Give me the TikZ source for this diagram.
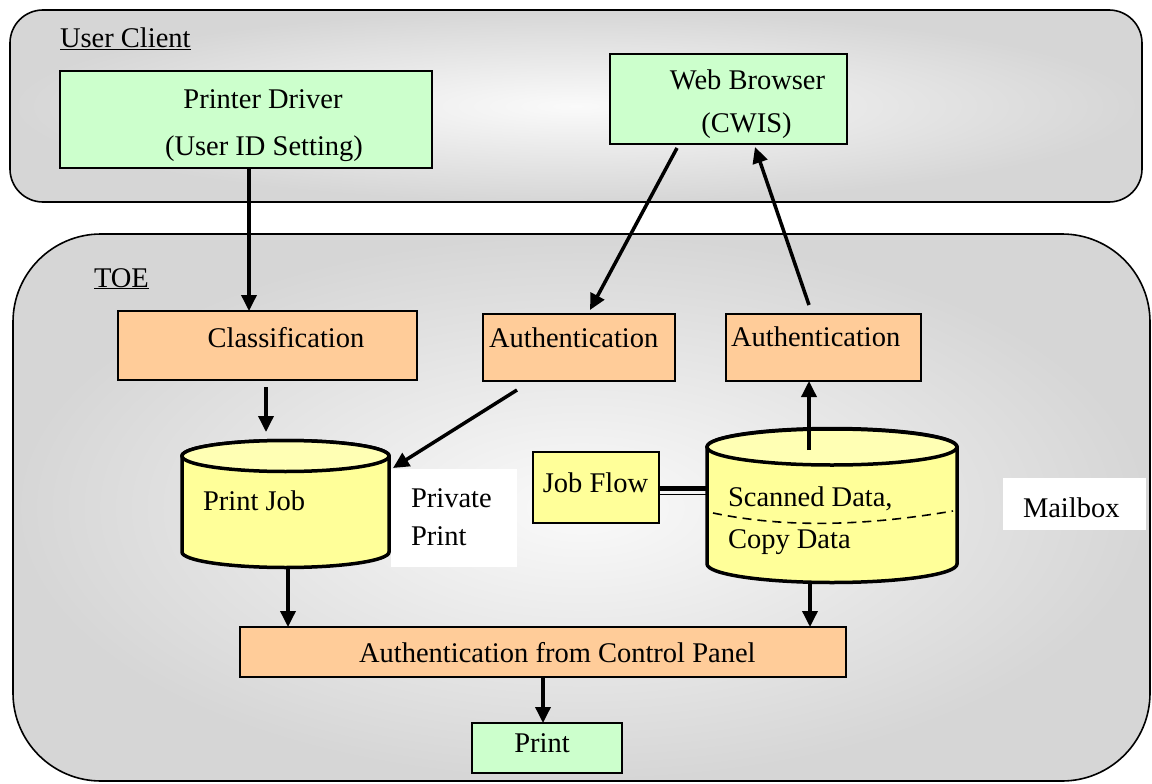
\documentclass[tikz,border=0pt]{standalone}
\usepackage{fontspec}
\setmainfont{Liberation Serif}
\usetikzlibrary{arrows.meta,fit}
\definecolor{gfill}{HTML}{CCFFCC}
\definecolor{ofill}{HTML}{FFCC99}
\definecolor{yfill}{HTML}{FFFF99}
\definecolor{ytop}{HTML}{FFFFB4}
\definecolor{cedge}{HTML}{D6D6D6}
\definecolor{ccenter}{HTML}{FAFAFA}
\tikzset{
  container/.style={draw, line width=1.6pt, inner color=ccenter, outer color=cedge},
  box/.style={draw, line width=1.8pt, inner sep=0pt, outer sep=0pt},
  plain/.style={fill=white, inner sep=0pt, outer sep=0pt},
  lbl/.style={anchor=base west, inner sep=0pt, outer sep=0pt},
  clbl/.style={anchor=base, inner sep=0pt, outer sep=0pt},
  arr/.style={line width=3.5pt, -{Triangle[length=16pt,width=15pt]}},
  cyl/.style={draw, line width=3.5pt, fill=yfill},
  cyltop/.style={draw, line width=3.5pt, fill=ytop},
}
\begin{document}
\begin{tikzpicture}[x=1pt,y=-1pt,font=\fontsize{28.5}{34}\selectfont]
\useasboundingbox (0,0) rectangle (1152,784);

% containers
\draw[container, rounded corners=33pt] (10,10) rectangle (1142,202);
\draw[container, rounded corners=88pt] (13,234) rectangle (1150,781);
\node[lbl] (uc) at (60,48) {\underline{User Client}};
\node[lbl] (toe) at (94,287) {\underline{TOE}};

% boxes
\node[box, fill=gfill, fit={(60,71)(432,168)}] (drv) {};
\node[clbl] (drvt1) at (263,108) {Printer Driver};
\node[clbl] (drvt2) at (264,155) {(User ID Setting)};

\node[box, fill=gfill, fit={(610,54)(847,144)}] (web) {};
\node[clbl] (webt1) at (747.5,89) {Web Browser};
\node[clbl] (webt2) at (746.5,132) {(CWIS)};

\node[box, fill=ofill, fit={(118,311)(417,380)}] (cls) {};
\node[clbl] (clst) at (286,347) {Classification};

\node[box, fill=ofill, fit={(483,314)(675,381)}] (au1) {};
\node[lbl] (au1t) at (489,347) {Authentication};

\node[box, fill=ofill, fit={(726,314)(921,381)}] (au2) {};
\node[lbl] (au2t) at (731,346) {Authentication};

\node[box, fill=ofill, fit={(240,627)(846,677)}] (acp) {};
\node[lbl] (acpt) at (359,662) {Authentication from Control Panel};

\node[box, fill=gfill, fit={(472,723)(622,773)}] (prt) {};
\node[clbl] (prtt) at (542,752) {Print};

\node[box, fill=yfill, fit={(533,452)(659,523)}] (jf) {};
\node[clbl] (jft) at (595.5,492) {Job Flow};

\node[plain, fit={(391,469)(517,567)}] (pp) {};
\node[lbl] (ppt1) at (411,507) {Private};
\node[lbl] (ppt2) at (411,545) {Print};

\node[plain, fit={(1003,478)(1146,530)}] (mb) {};
\node[lbl] (mbt) at (1023,517) {Mailbox};

% Print Job cylinder
\filldraw[cyl] (182,456) -- (182,552) arc[start angle=180,end angle=0,x radius=103.5,y radius=15.5]
  -- (389,456) arc[start angle=0,end angle=-180,x radius=103.5,y radius=15.5] -- cycle;
\draw[cyltop] (285.5,456) ellipse[x radius=103.5, y radius=15.5];
\node[lbl] (pjt) at (203,510) {Print Job};

% Scanned data cylinder
\filldraw[cyl] (707,447) -- (707,564) arc[start angle=180,end angle=0,x radius=125,y radius=18.5]
  -- (957,447) arc[start angle=0,end angle=-180,x radius=125,y radius=18.5] -- cycle;
\draw[cyltop] (832,447) ellipse[x radius=125, y radius=18];
\draw[line width=1.6pt, dash pattern=on 9pt off 6pt] (713,513) .. controls (790,529) and (870,525) .. (953,511);
\node[lbl] (sdt1) at (728,506) {Scanned Data,};
\node[lbl] (sdt2) at (728,548) {Copy Data};

% job flow double link
\coordinate (jfa) at (659,488);
\coordinate (jfb) at (707,488);
\coordinate (jfc) at (659,494.5);
\coordinate (jfd) at (707,494.5);
\draw[line width=5pt] (jfa) -- (jfb);
\draw[line width=1.8pt] (jfc) -- (jfd);

% arrow end points
\coordinate (a1s) at (249,168);  \coordinate (a1e) at (249,311);
\coordinate (a2s) at (266,387);  \coordinate (a2e) at (266,432);
\coordinate (a3s) at (517,390);  \coordinate (a3e) at (393,468);
\coordinate (a4s) at (677,148);  \coordinate (a4e) at (590,310);
\coordinate (a5s) at (809,305);  \coordinate (a5e) at (755,147);
\coordinate (a6s) at (809,450);  \coordinate (a6e) at (809,381);
\coordinate (a7s) at (288,567);  \coordinate (a7e) at (288,627);
\coordinate (a8s) at (810,583);  \coordinate (a8e) at (810,627);
\coordinate (a9s) at (543,677);  \coordinate (a9e) at (543,723);

\draw[arr] (a1s) -- (a1e);
\draw[arr] (a2s) -- (a2e);
\draw[arr] (a3s) -- (a3e);
\draw[arr] (a4s) -- (a4e);
\draw[arr] (a5s) -- (a5e);
\draw[arr] (a6s) -- (a6e);
\draw[arr] (a7s) -- (a7e);
\draw[arr] (a8s) -- (a8e);
\draw[arr] (a9s) -- (a9e);
\end{tikzpicture}
\end{document}
